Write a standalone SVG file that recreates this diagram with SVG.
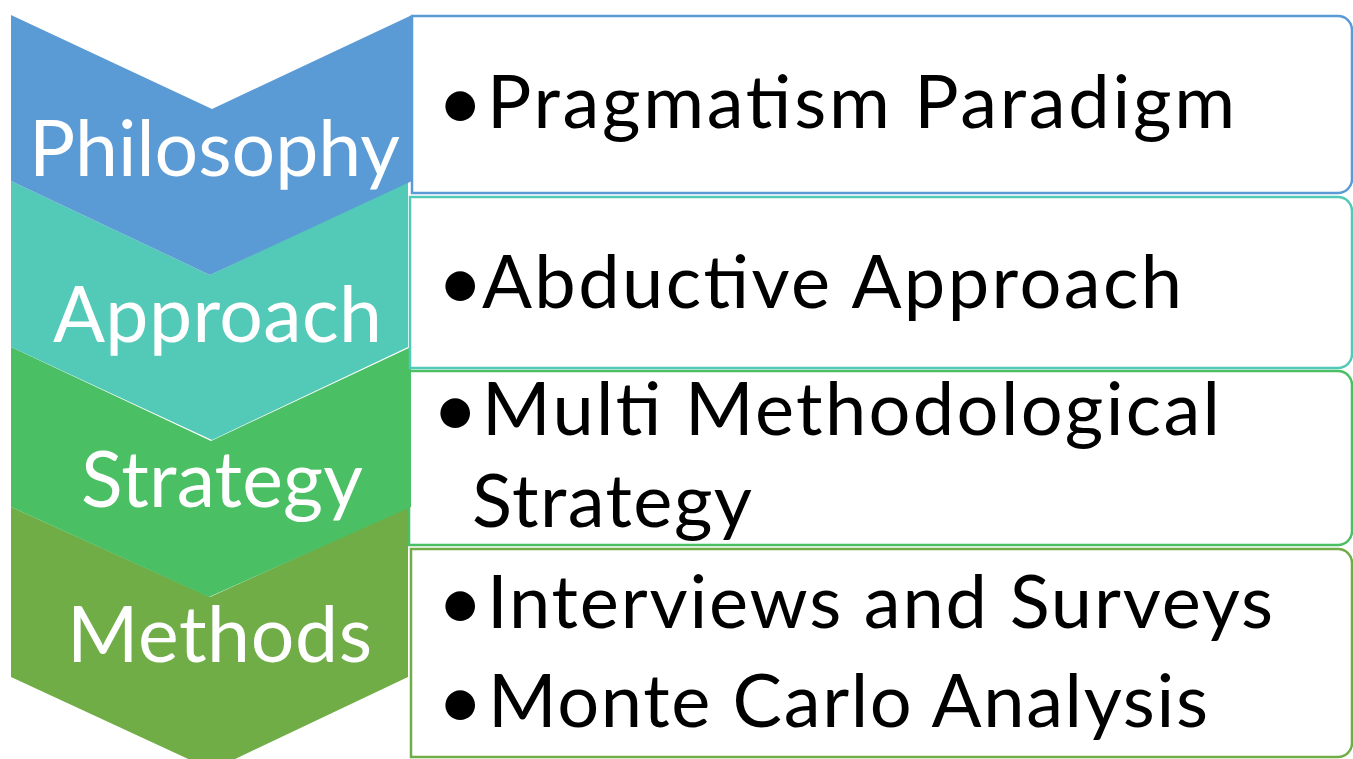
<svg xmlns="http://www.w3.org/2000/svg" width="1353" height="759" viewBox="0 0 1353 759">
<style>
  .box { fill: #FFFFFF; stroke-width: 2.5; }
  .lbl { font-family: Lato, "Liberation Sans", sans-serif; fill: #FFFFFF; font-size: 77px; }
  .txt { font-family: Lato, "Liberation Sans", sans-serif; fill: #000000; font-size: 74px; }
  .bul { font-family: Lato, "Liberation Sans", sans-serif; fill: #000000; font-size: 80px; }
</style>
<rect width="1353" height="759" fill="#FFFFFF"/>
<g id="node-methods">
  <path class="box" stroke="#70AD47" d="M411,549 H1338 A14,14 0 0 1 1352,563 V743 A14,14 0 0 1 1338,757 H411 Z"/>
  <polygon fill="#70AD47" points="11,507 210,597 408,507 408,677 212,770 11,677"/>
  <text class="lbl" x="67" y="662" textLength="305">Methods</text>
  <text class="bul" x="437" y="630">•</text>
  <text class="txt" x="487" y="628" textLength="786">Interviews and Surveys</text>
  <text class="bul" x="437" y="729">•</text>
  <text class="txt" x="488" y="727" textLength="720">Monte Carlo Analysis</text>
</g>
<g id="node-strategy">
  <path class="box" stroke="#4ABF63" d="M409,371 H1338 A14,14 0 0 1 1352,385 V531 A14,14 0 0 1 1338,545 H409 Z"/>
  <polygon fill="#4ABF63" points="11,347 211,441 411,347 411,507 209,597 11,507"/>
  <text class="lbl" x="81" y="507" textLength="282">Strategy</text>
  <text class="bul" x="432" y="437">•</text>
  <text class="txt" x="482" y="435" textLength="738">Multi Methodological</text>
  <text class="txt" x="472" y="527" textLength="280">Strategy</text>
</g>
<g id="node-approach">
  <path class="box" stroke="#53C9B7" d="M410,197 H1338 A14,14 0 0 1 1352,211 V354 A14,14 0 0 1 1338,368 H410 Z"/>
  <polygon fill="#53C9B7" points="11,181 210,275 408,181 408,347 212,440 11,347"/>
  <text class="lbl" x="53" y="342" textLength="329">Approach</text>
  <text class="bul" x="437" y="310">•</text>
  <text class="txt" x="482" y="308" textLength="700">Abductive Approach</text>
</g>
<g id="node-philosophy">
  <path class="box" stroke="#5B9BD5" d="M412,16 H1338 A14,14 0 0 1 1352,30 V179 A14,14 0 0 1 1338,193 H412 Z"/>
  <polygon fill="#5B9BD5" points="11,15 212,109 412,15 412,181 210,275 11,181"/>
  <text class="lbl" x="29" y="176" font-size="81" textLength="371">Philosophy</text>
  <text class="bul" x="437" y="130">•</text>
  <text class="txt" x="487" y="128" textLength="748">Pragmatism Paradigm</text>
</g>
<g id="connectors"/>
</svg>
